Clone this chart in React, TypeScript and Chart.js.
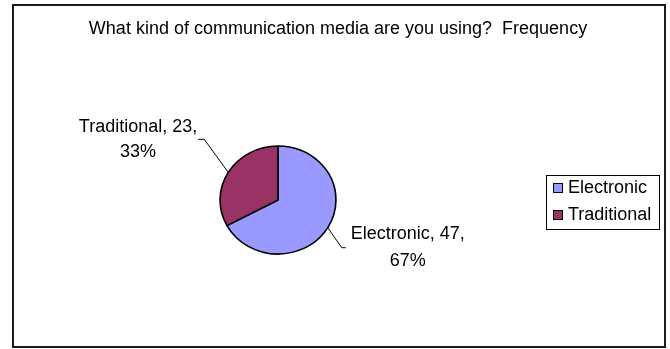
import React, { useEffect, useRef } from "react";
import { Chart, registerables } from "chart.js";

Chart.register(...registerables);

const TITLE = "What kind of communication media are you using?  Frequency";
const categories = ["Electronic", "Traditional"];
const frequencies = [47, 23];
const sliceColors = ["#9999FF", "#993366"];

const FONT = "'Liberation Sans', Arial, Helvetica, sans-serif";
const W = 670;
const H = 349;

export default function App() {
  const ref = useRef<HTMLCanvasElement>(null);

  useEffect(() => {
    const canvas = ref.current;
    if (!canvas) return;
    const total = frequencies.reduce((a, b) => a + b, 0);
    const xStretch = 58.5 / 54.5;

    const framePlugin = {
      id: "frame",
      beforeDraw(chart: any) {
        const ctx = chart.ctx;
        ctx.save();
        ctx.fillStyle = "#ffffff";
        ctx.fillRect(0, 0, W, H);
        ctx.strokeStyle = "#1a1a1a";
        ctx.lineWidth = 2;
        ctx.strokeRect(13, 5, 652, 342);
        ctx.fillStyle = "#000";
        ctx.font = `18px ${FONT}`;
        ctx.textAlign = "center";
        ctx.textBaseline = "middle";
        ctx.fillText(TITLE, 338, 29);
        ctx.restore();
      },
    };

    const ellipsePlugin = {
      id: "ellipse",
      beforeDatasetsDraw(chart: any) {
        const arc = chart.getDatasetMeta(0).data[0];
        const ctx = chart.ctx;
        ctx.save();
        ctx.translate(arc.x, 0);
        ctx.scale(xStretch, 1);
        ctx.translate(-arc.x, 0);
      },
      afterDatasetsDraw(chart: any) {
        chart.ctx.restore();
      },
    };

    const labelPlugin = {
      id: "pieLabels",
      afterDraw(chart: any) {
        const ctx = chart.ctx;
        const meta = chart.getDatasetMeta(0);
        const leader = [
          { dx: 14, dy: 20, tick: 4, side: 1, lh: 27 },
          { dx: -24, dy: -33, tick: -6, side: -1, lh: 25 },
        ];
        ctx.save();
        ctx.font = `18px ${FONT}`;
        ctx.fillStyle = "#000";
        ctx.strokeStyle = "#000";
        ctx.lineWidth = 1;
        meta.data.forEach((arc: any, i: number) => {
          const mid = (arc.startAngle + arc.endAngle) / 2;
          const r = arc.outerRadius;
          const ex = arc.x + Math.cos(mid) * r * xStretch;
          const ey = arc.y + Math.sin(mid) * r;
          const L = leader[i];
          const bx = ex + L.dx;
          const by = ey + L.dy;
          const tx = bx + L.tick;
          ctx.beginPath();
          ctx.moveTo(ex, ey);
          ctx.lineTo(bx, by);
          ctx.lineTo(tx, by);
          ctx.stroke();
          const pct = Math.round((frequencies[i] / total) * 100);
          const lines = [`${categories[i]}, ${frequencies[i]},`, `${pct}%`];
          const maxW = Math.max(...lines.map((s) => ctx.measureText(s).width));
          const cx = L.side > 0 ? tx + 5 + maxW / 2 : tx - 1 - maxW / 2;
          ctx.textAlign = "center";
          ctx.textBaseline = "middle";
          lines.forEach((s, j) => {
            ctx.fillText(s, cx, by - L.lh / 2 + j * L.lh);
          });
        });

        // legend
        ctx.lineWidth = 1;
        ctx.strokeStyle = "#000";
        ctx.strokeRect(546.5, 175.5, 113, 54);
        ctx.textAlign = "left";
        ctx.textBaseline = "middle";
        categories.forEach((c, i) => {
          const cy = 188 + i * 27;
          ctx.fillStyle = sliceColors[i];
          ctx.fillRect(553, cy - 5, 10, 10);
          ctx.strokeRect(553.5, cy - 4.5, 9, 9);
          ctx.fillStyle = "#000";
          ctx.fillText(c, 568, cy);
        });
        ctx.restore();
      },
    };

    const chart = new Chart(canvas, {
      type: "pie",
      data: {
        labels: categories,
        datasets: [
          {
            data: frequencies,
            backgroundColor: sliceColors,
            borderColor: "#000",
            borderWidth: 1.5,
          },
        ],
      },
      options: {
        responsive: false,
        animation: false,
        devicePixelRatio: 1,
        radius: 54,
        layout: { padding: { left: 218, right: 332, top: 140, bottom: 89 } },
        plugins: {
          legend: { display: false },
          title: { display: false },
          tooltip: { enabled: false },
        },
      } as any,
      plugins: [framePlugin, ellipsePlugin, labelPlugin],
    });
    return () => chart.destroy();
  }, []);

  return (
    <div style={{ position: "absolute", left: 0, top: 0, width: W, height: H }}>
      <canvas ref={ref} width={W} height={H} style={{ width: W, height: H, display: "block" }} />
    </div>
  );
}
